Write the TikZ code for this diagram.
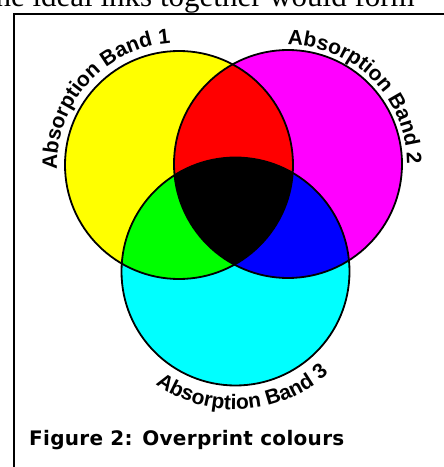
\documentclass[tikz,border=0pt]{standalone}
\usepackage{fontspec}
\usetikzlibrary{decorations.text}
\newfontfamily\bandfont{Liberation Sans Bold}
\newfontfamily\capfont[LetterSpace=1.5]{DejaVu Sans Bold}
\newfontfamily\bodyfont{Liberation Serif}
\definecolor{inkyellow}{HTML}{FFFF00}
\definecolor{inkmagenta}{HTML}{FF00FF}
\definecolor{inkcyan}{HTML}{00FFFF}
\definecolor{inkred}{HTML}{FF0000}
\definecolor{inkgreen}{HTML}{00FF00}
\definecolor{inkblue}{HTML}{0000FF}
\tikzset{
  bandcircle/.style={draw=black, line width=1.8pt},
  bandlabel/.style={decorate, decoration={text along path, text align=center,
    text={|\bandfont\fontsize{21}{21}\selectfont|#1}}},
  framerule/.style={draw=black, line width=2.5pt},
}

\begin{document}
\begin{tikzpicture}[x=1pt, y=1pt]
  \useasboundingbox (0,0) rectangle (444,467);
  \clip (0,0) rectangle (444,467);
  \coordinate (yc) at (179,302);
  \coordinate (mc) at (288,303);
  \coordinate (cc) at (235.5,195.5);
  % single inks
  \fill[inkyellow] (yc) circle[radius=114];
  \fill[inkmagenta] (mc) circle[radius=114];
  \fill[inkcyan] (cc) circle[radius=114];
  % overprints
  \begin{scope}
    \clip (yc) circle[radius=114];
    \fill[inkred] (mc) circle[radius=114];
    \fill[inkgreen] (cc) circle[radius=114];
  \end{scope}
  \begin{scope}
    \clip (mc) circle[radius=114];
    \fill[inkblue] (cc) circle[radius=114];
    \clip (yc) circle[radius=114];
    \fill[black] (cc) circle[radius=114];
  \end{scope}
  \draw[bandcircle] (yc) circle[radius=114];
  \draw[bandcircle] (mc) circle[radius=114];
  \draw[bandcircle] (cc) circle[radius=114];
  % labels round the circles
  \path[bandlabel={Absorption Band 1}] ([shift={(193:122)}]yc) arc[start angle=193, end angle=83, radius=122];
  \path[bandlabel={Absorption Band 2}] ([shift={(100:119)}]mc) arc[start angle=100, end angle=-10, radius=119];
  \path[bandlabel={Absorption Band 3}] ([shift={(213.5:138)}]cc) arc[start angle=213.5, end angle=333.5, radius=138];
  % frame and page text
  \draw[framerule] (14,-10) -- (14,453) -- (460,453);
  \node[anchor=base east, inner sep=0pt, font=\bodyfont\fontsize{31}{31}\selectfont] (bodyline) at (415,460) {the ideal inks together would form};
  \node[anchor=base west, inner sep=0pt, font=\capfont\fontsize{20}{20}\selectfont] (caption) at (29,22) {Figure 2: Overprint colours};
\end{tikzpicture}
\end{document}
